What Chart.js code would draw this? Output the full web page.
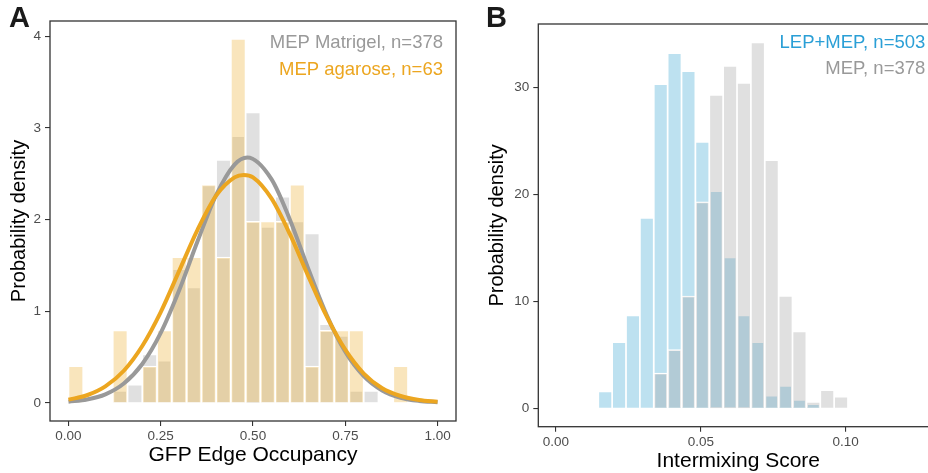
<!DOCTYPE html>
<html>
<head>
<meta charset="utf-8">
<script src="https://cdn.jsdelivr.net/npm/chart.js@4.4.1/dist/chart.umd.min.js"></script>
<style>
  html, body { margin: 0; padding: 0; background: #fff; }
  body { width: 928px; height: 473px; overflow: hidden; position: relative; }
  #chartA { position: absolute; left: 0; top: 0; }
  #chartB { position: absolute; left: 470px; top: 0; }
</style>
</head>
<body>
<canvas id="chartA" width="470" height="473"></canvas>
<canvas id="chartB" width="490" height="490"></canvas>
<script>
// panel A: GFP edge occupancy, bin centres (binwidth 0.04)
var binsA = [0.02, 0.06, 0.10, 0.14, 0.18, 0.22, 0.26, 0.30, 0.34, 0.38, 0.42, 0.46,
             0.50, 0.54, 0.58, 0.62, 0.66, 0.70, 0.74, 0.78, 0.82, 0.86, 0.90];
var matrigelA = [0, 0, 0, 0.13, 0.20, 0.53, 0.46, 1.46, 1.26, 2.38, 2.65, 2.91,
                 3.17, 1.92, 2.25, 1.98, 1.85, 0.86, 0.73, 0.13, 0.13, 0, 0];
var agaroseA = [0.40, 0, 0, 0.79, 0, 0.40, 0.79, 1.59, 1.59, 2.38, 1.59, 3.97,
                1.98, 1.98, 1.98, 2.38, 0.40, 0.79, 0.79, 0.79, 0, 0, 0.40];

// fitted density curves
var matrigelCurveX = [0, 0.05, 0.10, 0.15, 0.20, 0.25, 0.30, 0.35, 0.40, 0.45, 0.485,
                      0.55, 0.60, 0.65, 0.70, 0.75, 0.80, 0.85, 0.90, 0.95, 1.00];
var matrigelCurveY = [0.013, 0.037, 0.093, 0.211, 0.424, 0.763, 1.228, 1.765, 2.266, 2.600, 2.677,
                      2.441, 1.998, 1.461, 0.955, 0.557, 0.291, 0.135, 0.056, 0.021, 0.007];
var agaroseCurveX = [0, 0.05, 0.10, 0.15, 0.20, 0.25, 0.30, 0.35, 0.40, 0.45, 0.475, 0.50,
                     0.55, 0.60, 0.65, 0.70, 0.75, 0.80, 0.85, 0.90, 0.95, 1.00];
var agaroseCurveY = [0.035, 0.083, 0.18, 0.35, 0.62, 0.99, 1.44, 1.89, 2.26, 2.46, 2.487, 2.46,
                     2.23, 1.84, 1.38, 0.94, 0.58, 0.32, 0.16, 0.075, 0.032, 0.012];

var xTicksA = [0, 0.25, 0.5, 0.75, 1];
var yTicksA = [0, 1, 2, 3, 4];

// panel B: intermixing score
var binsB = [0.01700, 0.02179, 0.02658, 0.03137, 0.03616, 0.04095, 0.04574, 0.05053, 0.05532,
             0.06011, 0.06490, 0.06969, 0.07448, 0.07927, 0.08406, 0.08885, 0.09364, 0.09843];
var lepMepB = [1.6, 6.2, 8.7, 17.8, 30.3, 33.2, 31.5, 24.9, 20.3,
               14.1, 8.7, 6.2, 1.2, 2.1, 0.8, 0.4, 0, 0];
var mepB = [0, 0, 0, 0, 3.3, 5.5, 10.5, 19.3, 29.3,
            32.0, 30.4, 34.2, 23.2, 10.5, 7.2, 0.6, 1.7, 1.1];

var xTicksB = [0, 0.05, 0.10];
var yTicksB = [0, 10, 20, 30];

var FONT = "'Liberation Sans', Arial, Helvetica, sans-serif";
Chart.defaults.font.family = FONT;
Chart.defaults.animation = false;

function pts(xs, ys) {
    return xs.map(function(x, i) { return { x: x, y: ys[i] }; });
}

// box round the panel, in-plot labels and panel letter
var panelDecor = {
    id: 'panelDecor',
    afterDraw: function(chart, args, opts) {
        var ctx = chart.ctx, a = chart.chartArea;
        ctx.save();
        ctx.strokeStyle = '#333';
        ctx.lineWidth = 1.3;
        ctx.strokeRect(a.left, a.top, a.right - a.left, a.bottom - a.top);
        ctx.textAlign = 'right';
        ctx.textBaseline = 'alphabetic';
        ctx.font = '18.5px ' + FONT;
        opts.notes.forEach(function(n) {
            ctx.fillStyle = n.color;
            ctx.fillText(n.text, a.right - 13, a.top + n.dy);
        });
        ctx.textAlign = 'left';
        ctx.fillStyle = '#1a1a1a';
        ctx.font = 'bold 29px ' + FONT;
        ctx.fillText(opts.tag, opts.tagX, opts.tagY);
        ctx.restore();
    }
};

function axis(opts) {
    return {
        type: 'linear',
        min: opts.min, max: opts.max,
        offset: false,
        afterBuildTicks: function(s) { s.ticks = opts.ticks.map(function(v) { return { value: v }; }); },
        afterFit: function(s) { if (opts.width) s.width = opts.width; if (opts.height) s.height = opts.height; },
        grid: { display: true, offset: false, drawOnChartArea: false, drawTicks: true, tickLength: 5, color: '#333', lineWidth: 1.1 },
        border: { display: false },
        ticks: {
            color: '#4d4d4d', font: { size: 13.5 }, padding: opts.pad, autoSkip: false, maxRotation: 0,
            callback: opts.fmt
        },
        title: { display: true, text: opts.title, color: '#000', font: { size: opts.titleSize }, padding: opts.titlePad }
    };
}

function barSet(label, xs, ys, color, order) {
    return {
        type: 'bar', label: label, data: pts(xs, ys), order: order,
        backgroundColor: color, borderColor: '#fff', borderWidth: 1.2,
        grouped: false, barPercentage: 1, categoryPercentage: 1
    };
}

function curveSet(label, xs, ys, color, order) {
    return {
        type: 'line', label: label, data: pts(xs, ys), order: order,
        borderColor: color, borderWidth: 4, pointRadius: 0, fill: false,
        cubicInterpolationMode: 'monotone'
    };
}

// A
new Chart(document.getElementById('chartA'), {
    type: 'bar',
    data: {
        datasets: [
            curveSet('MEP agarose fit', agaroseCurveX, agaroseCurveY, '#eca620', 0),
            curveSet('MEP Matrigel fit', matrigelCurveX, matrigelCurveY, '#999999', 1),
            barSet('MEP agarose, n=63', binsA, agaroseA, 'rgba(236,168,32,0.3)', 2),
            barSet('MEP Matrigel, n=378', binsA, matrigelA, 'rgba(153,153,153,0.3)', 3)
        ]
    },
    options: {
        responsive: false,
        devicePixelRatio: 1,
        events: [],
        layout: { padding: { top: 21, right: 14, left: 0, bottom: 0 } },
        plugins: {
            legend: { display: false },
            tooltip: { enabled: false },
            panelDecor: {
                tag: 'A', tagX: 9, tagY: 27,
                notes: [
                    { text: 'MEP Matrigel, n=378', color: '#999999', dy: 27.3 },
                    { text: 'MEP agarose, n=63', color: '#eca620', dy: 54.3 }
                ]
            }
        },
        scales: {
            x: axis({ min: -0.05, max: 1.05, ticks: xTicksA, height: 52, pad: 2,
                      fmt: function(v) { return v.toFixed(2); },
                      title: 'GFP Edge Occupancy', titleSize: 21, titlePad: { top: 0, bottom: 5.5 } }),
            y: axis({ min: -0.198, max: 4.166, ticks: yTicksA, width: 50, pad: 4,
                      fmt: function(v) { return String(v); },
                      title: 'Probability density', titleSize: 20, titlePad: { top: 7, bottom: 0 } })
        }
    },
    plugins: [panelDecor]
});

// B
new Chart(document.getElementById('chartB'), {
    type: 'bar',
    data: {
        datasets: [
            barSet('MEP, n=378', binsB, mepB, 'rgba(153,153,153,0.3)', 1),
            barSet('LEP+MEP, n=503', binsB, lepMepB, 'rgba(35,155,205,0.3)', 2)
        ]
    },
    options: {
        responsive: false,
        devicePixelRatio: 1,
        events: [],
        layout: { padding: { top: 24, right: 21.7, left: 0, bottom: 0 } },
        plugins: {
            legend: { display: false },
            tooltip: { enabled: false },
            panelDecor: {
                tag: 'B', tagX: 16, tagY: 27,
                notes: [
                    { text: 'LEP+MEP, n=503', color: '#2a9fd6', dy: 23.7 },
                    { text: 'MEP, n=378', color: '#999999', dy: 50 }
                ]
            }
        },
        scales: {
            x: axis({ min: -0.0061, max: 0.1320, ticks: xTicksB, height: 63.3, pad: 2,
                      fmt: function(v) { return v.toFixed(2); },
                      title: 'Intermixing Score', titleSize: 21, titlePad: { top: 0, bottom: 15.8 } }),
            y: axis({ min: -1.71, max: 35.91, ticks: yTicksB, width: 68.3, pad: 4,
                      fmt: function(v) { return String(v); },
                      title: 'Probability density', titleSize: 20, titlePad: { top: 15, bottom: 0 } })
        }
    },
    plugins: [panelDecor]
});
</script>
</body>
</html>
